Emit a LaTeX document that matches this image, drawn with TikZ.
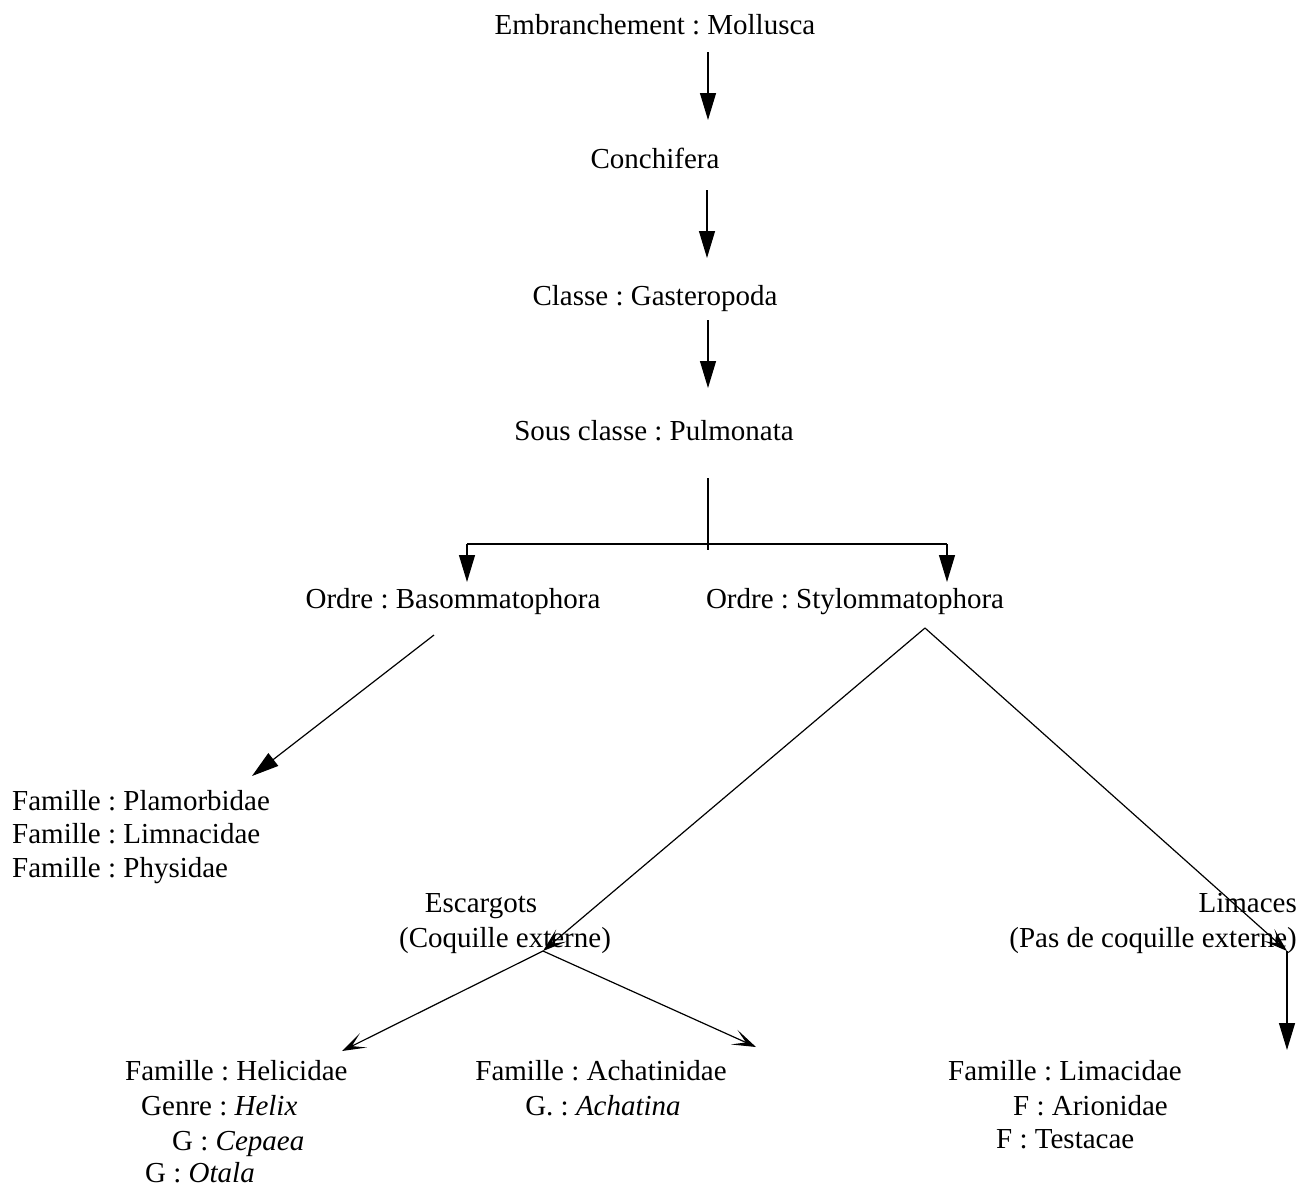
\documentclass[tikz,border=0pt]{standalone}
\usepackage{fontspec}
\setmainfont{Liberation Serif}
\usetikzlibrary{arrows.meta}
\frenchspacing
\begin{document}
\begin{tikzpicture}[x=1pt,y=-1pt,
  txt/.style={inner sep=0pt,font=\fontsize{29}{33.5}\selectfont\frenchspacing},
  ctr/.style={txt,anchor=base},
  lft/.style={txt,anchor=base west},
  rgt/.style={txt,anchor=base east},
  bigarrow/.style={line width=1.2pt,-{Triangle[length=27pt,width=16pt]}},
  thinarrow/.style={line width=1.2pt,-{Stealth[length=24pt,width=16pt,inset=13pt]}},
  plain/.style={line width=1.2pt}]
\useasboundingbox (0,0) rectangle (1312,1189);
% texts
\node[ctr] (emb) at (655,34) {Embranchement : Mollusca};
\node[ctr] (conch) at (655,168) {Conchifera};
\node[ctr] (cls) at (655,305) {Classe : Gasteropoda};
\node[ctr] (scls) at (654,440) {Sous classe : Pulmonata};
\node[ctr] (obas) at (453,608) {Ordre : Basommatophora};
\node[ctr] (osty) at (855,608) {Ordre : Stylommatophora};
\node[lft] (fpla) at (12,810) {Famille : Plamorbidae};
\node[lft] (flim) at (12,843) {Famille : Limnacidae};
\node[lft] (fphy) at (12,877) {Famille : Physidae};
\node[ctr] (esc) at (481,912) {Escargots};
\node[ctr] (coq) at (505,947) {(Coquille externe)};
\node[rgt] (lima) at (1297,912) {Limaces};
\node[rgt] (pas) at (1297,947) {(Pas de coquille externe)};
\node[lft] (fhel) at (125,1080) {Famille : Helicidae};
\node[lft] (ghel) at (141,1115) {Genre : \textit{Helix}};
\node[lft] (gcep) at (172,1150) {G : \textit{Cepaea}};
\node[lft] (gota) at (145,1182) {G : \textit{Otala}};
\node[ctr] (fach) at (601,1080) {Famille : Achatinidae};
\node[ctr] (gach) at (603,1115) {G. : \textit{Achatina}};
\node[lft] (flima) at (948,1080) {Famille : Limacidae};
\node[lft] (fari) at (1013,1115) {F : Arionidae};
\node[lft] (ftes) at (996,1148) {F : Testacae};
% connector end points
\coordinate (a1s) at (708,52);  \coordinate (a1e) at (708,120);
\coordinate (a2s) at (707,190); \coordinate (a2e) at (707,258);
\coordinate (a3s) at (708,320); \coordinate (a3e) at (708,388);
\coordinate (splt) at (708,478); \coordinate (spltb) at (708,550);
\coordinate (hl) at (467,544); \coordinate (hr) at (947,544);
\coordinate (hle) at (467,582); \coordinate (hre) at (947,582);
\coordinate (bass) at (434,635); \coordinate (base) at (252,776);
\coordinate (stys) at (925,628);
\coordinate (escp) at (543,951);
\coordinate (limp) at (1287,951);
\coordinate (help) at (342,1051);
\coordinate (achp) at (756,1047);
\coordinate (limae) at (1287,1050);
% connectors
\draw[bigarrow] (a1s) -- (a1e);
\draw[bigarrow] (a2s) -- (a2e);
\draw[bigarrow] (a3s) -- (a3e);
\draw[plain] (splt) -- (spltb);
\draw[plain] (hl) -- (hr);
\draw[bigarrow] (hl) -- (hle);
\draw[bigarrow] (hr) -- (hre);
\draw[bigarrow] (bass) -- (base);
\draw[thinarrow] (stys) -- (escp);
\draw[thinarrow] (stys) -- (limp);
\draw[thinarrow] (escp) -- (help);
\draw[thinarrow] (escp) -- (achp);
\draw[bigarrow] (limp) -- (limae);
\end{tikzpicture}
\end{document}
